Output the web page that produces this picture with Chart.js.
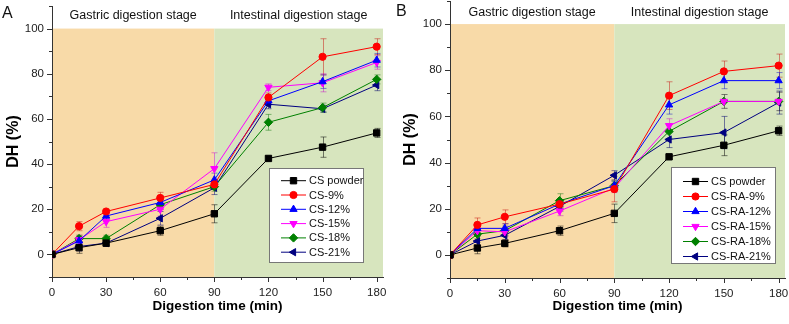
<!DOCTYPE html>
<html>
<head>
<meta charset="utf-8">
<script src="https://cdn.jsdelivr.net/npm/chart.js@4.4.0/dist/chart.umd.min.js"></script>
<style>
body { margin: 0; background: #fff; }
#wrap { position: relative; width: 789px; height: 324px; }
canvas { position: absolute; top: 0; }
#chartA { left: 0; }
#chartB { left: 390px; }
</style>
</head>
<body>
<div id="wrap">
  <canvas id="chartA" width="390" height="324"></canvas>
  <canvas id="chartB" width="399" height="324"></canvas>
</div>
<script>
// digestion time points (min)
const times = [0, 15, 30, 60, 90, 120, 150, 180];
const xTicks = [0, 15, 30, 45, 60, 75, 90, 105, 120, 135, 150, 165, 180];
const yTicks = [-10, 0, 10, 20, 30, 40, 50, 60, 70, 80, 90, 100, 110];
const stageLabels = ['Gastric digestion stage', 'Intestinal digestion stage'];

// panel A
const labelsA = ['CS powder', 'CS-9%', 'CS-12%', 'CS-15%', 'CS-18%', 'CS-21%'];
const csPowder = [0, 3, 5, 10.5, 18, 42.5, 47.5, 53.8];
const cs9 = [0, 12.5, 19, 25, 31, 69.5, 87.5, 92];
const cs12 = [0, 6, 17, 23, 33, 68, 76.5, 86];
const cs15 = [0, 6.5, 14.5, 20, 38, 74, 76, 85];
const cs18 = [0, 7, 7, 22, 30, 58.5, 65, 77.5];
const cs21 = [0, 3.5, 5, 16, 29.5, 66.5, 64.5, 75];

const csPowderErr = [0, 2.5, 1.5, 2, 4, 1, 4.5, 2];
const cs9Err = [0, 2, 1, 2.5, 2, 2, 8, 3.5];
const cs12Err = [0, 2, 2, 3, 3, 2, 3, 3];
const cs15Err = [0, 2, 2.5, 3, 7, 1.5, 4, 3];
const cs18Err = [0, 1.5, 1.5, 2, 2, 3.5, 2, 2];
const cs21Err = [0, 2, 1.5, 3, 3, 2, 1.5, 2.5];

// panel B
const labelsB = ['CS powder', 'CS-RA-9%', 'CS-RA-12%', 'CS-RA-15%', 'CS-RA-18%', 'CS-RA-21%'];
const ra9 = [0, 13, 16.5, 22, 28.5, 69, 79.5, 82];
const ra12 = [0, 11.5, 11.5, 22, 30, 65, 75.5, 75.5];
const ra15 = [0, 10.5, 10, 19, 29, 56, 66.5, 66.5];
const ra18 = [0, 9, 10.5, 23.5, 30, 53.5, 66.5, 66.5];
const ra21 = [0, 6, 8.5, 21, 34.5, 50, 53, 66];

const ra9Err = [0, 3, 3, 2, 5.5, 6, 4.5, 5];
const ra12Err = [0, 2, 2, 2, 2, 4, 3.5, 3.5];
const ra15Err = [0, 2, 2, 2, 2, 3, 3, 4];
const ra18Err = [0, 2, 2, 3, 2, 3, 3, 4];
const ra21Err = [0, 2, 2, 2, 2, 3.5, 7, 5];

// series styles
const colors = ['#000000', '#FF0000', '#0000FF', '#FF00FF', '#008000', '#000080'];
const errColors = ['rgba(0,0,0,0.5)', 'rgba(200,0,0,0.45)', 'rgba(0,0,200,0.45)',
                   'rgba(200,0,200,0.45)', 'rgba(0,110,0,0.45)', 'rgba(0,0,110,0.5)'];
const shapes = ['rect', 'circle', 'triangle', 'triangle', 'rectRot', 'triangle'];
const rotations = [0, 0, 0, 180, 0, -90];
const radii = [4.5, 3.6, 4.2, 4.2, 4.2, 4.2];

const FONT = "'Liberation Sans', Arial, sans-serif";

function makeDatasets(labels, series, errors) {
    return series.map((vals, i) => ({
        label: labels[i],
        data: times.map((t, j) => ({ x: t, y: vals[j] })),
        errors: errors[i],
        errColor: errColors[i],
        borderColor: colors[i],
        backgroundColor: colors[i],
        borderWidth: 1,
        pointStyle: shapes[i],
        rotation: rotations[i],
        pointRadius: radii[i],
        pointBorderWidth: 1,
        tension: 0
    }));
}

const panelPlugin = {
    id: 'panel',
    beforeDraw(chart) {
        const { ctx, chartArea, scales: { x, y } } = chart;
        const x0 = x.getPixelForValue(0), x90 = x.getPixelForValue(90);
        const yTop = y.getPixelForValue(100);
        ctx.save();
        ctx.fillStyle = '#F8DAA8';
        ctx.fillRect(x0, yTop, x90 - x0, chartArea.bottom - yTop);
        ctx.fillStyle = '#D7E5BE';
        ctx.fillRect(x90, yTop, chartArea.right - x90, chartArea.bottom - yTop);
        ctx.restore();
    },
    beforeDatasetsDraw(chart) {
        const { ctx, scales: { x, y } } = chart;
        ctx.save();
        ctx.lineWidth = 1;
        chart.data.datasets.forEach(ds => {
            ctx.strokeStyle = ds.errColor;
            ds.data.forEach((p, j) => {
                const e = ds.errors[j];
                if (!e) return;
                const px = Math.round(x.getPixelForValue(p.x)) + 0.5;
                const y1 = y.getPixelForValue(p.y - e), y2 = y.getPixelForValue(p.y + e);
                ctx.beginPath();
                ctx.moveTo(px, y1); ctx.lineTo(px, y2);
                ctx.moveTo(px - 3, y1); ctx.lineTo(px + 3, y1);
                ctx.moveTo(px - 3, y2); ctx.lineTo(px + 3, y2);
                ctx.stroke();
            });
        });
        ctx.restore();
    },
    afterDraw(chart, args, opts) {
        const { ctx, chartArea, scales: { x, y } } = chart;
        ctx.save();

        // tick marks, outward, minor ones shorter
        ctx.strokeStyle = '#333';
        ctx.lineWidth = 1;
        ctx.beginPath();
        xTicks.forEach(v => {
            const px = Math.round(x.getPixelForValue(v)) + 0.5;
            const len = v % 30 === 0 ? 5 : 3;
            ctx.moveTo(px, chartArea.bottom); ctx.lineTo(px, chartArea.bottom + len);
        });
        yTicks.forEach(v => {
            const py = Math.round(y.getPixelForValue(v)) + 0.5;
            const len = (v % 20 === 0 && v >= 0 && v <= 100) ? 5 : 3;
            ctx.moveTo(chartArea.left, py); ctx.lineTo(chartArea.left - len, py);
        });
        ctx.stroke();

        // stage labels
        ctx.fillStyle = '#111';
        ctx.font = '12.5px ' + FONT;
        ctx.textAlign = 'center';
        ctx.textBaseline = 'middle';
        const x0 = x.getPixelForValue(0), x90 = x.getPixelForValue(90);
        ctx.fillText(stageLabels[0], (x0 + x90) / 2, opts.stageY);
        ctx.fillText(stageLabels[1], (x90 + chartArea.right) / 2, opts.stageY);

        // panel letter
        ctx.font = '16px ' + FONT;
        ctx.textAlign = 'left';
        ctx.textBaseline = 'alphabetic';
        ctx.fillText(opts.letter, opts.letterX, opts.letterY);

        // legend box
        const lg = opts.legend;
        const bx = chartArea.right - lg.right - lg.w;
        const by = chartArea.bottom - lg.bottom - lg.h;
        ctx.fillStyle = '#fff';
        ctx.fillRect(bx, by, lg.w, lg.h);
        ctx.strokeStyle = '#777';
        ctx.strokeRect(Math.round(bx) + 0.5, Math.round(by) + 0.5, lg.w, lg.h);
        ctx.font = '11px ' + FONT;
        ctx.textBaseline = 'middle';
        chart.data.datasets.forEach((ds, i) => {
            const ry = by + lg.first + i * lg.rowH;
            ctx.strokeStyle = ds.borderColor;
            ctx.fillStyle = ds.borderColor;
            ctx.beginPath();
            ctx.moveTo(bx + 12, ry); ctx.lineTo(bx + 37, ry);
            ctx.stroke();
            Chart.helpers.drawPoint(ctx, {
                pointStyle: ds.pointStyle, rotation: ds.rotation,
                radius: ds.pointRadius, borderWidth: 1
            }, bx + 24.5, ry);
            ctx.fillStyle = '#111';
            ctx.fillText(ds.label, bx + 40, ry + 0.5);
        });
        ctx.restore();
    }
};

function makeChart(id, labels, series, errors, panel) {
    return new Chart(document.getElementById(id), {
        type: 'line',
        data: { datasets: makeDatasets(labels, series, errors) },
        plugins: [panelPlugin],
        options: {
            responsive: false,
            animation: false,
            devicePixelRatio: 1,
            layout: { autoPadding: false, padding: { top: panel.padTop, right: panel.padRight, left: 0, bottom: 0 } },
            plugins: {
                legend: { display: false },
                tooltip: { enabled: false },
                panel: panel
            },
            scales: {
                x: {
                    type: 'linear',
                    min: 0,
                    max: 183.5,
                    afterBuildTicks: axis => { axis.ticks = xTicks.map(v => ({ value: v })); },
                    afterFit: scale => {
                        scale.height = panel.xHeight;
                        scale.paddingLeft = 0;
                        scale.paddingRight = 0;
                    },
                    ticks: {
                        autoSkip: false,
                        maxRotation: 0,
                        padding: 9,
                        color: '#222',
                        font: { family: FONT, size: 11.5 },
                        callback: v => (v % 30 === 0 ? String(v) : '')
                    },
                    grid: { display: false, drawTicks: false },
                    border: { display: true, color: '#333', width: 1 },
                    title: {
                        display: true,
                        text: 'Digestion time (min)',
                        color: '#000',
                        font: { family: FONT, size: 13.5, weight: 'bold' },
                        padding: { top: 0, bottom: 10 }
                    }
                },
                y: {
                    type: 'linear',
                    min: -10,
                    max: 110,
                    afterBuildTicks: axis => { axis.ticks = yTicks.map(v => ({ value: v })); },
                    afterFit: scale => {
                        scale.width = panel.yWidth;
                        scale.paddingTop = 0;
                        scale.paddingBottom = 0;
                    },
                    ticks: {
                        autoSkip: false,
                        padding: 8,
                        color: '#222',
                        font: { family: FONT, size: 11.5 },
                        callback: v => (v % 20 === 0 && v >= 0 && v <= 100 ? String(v) : '')
                    },
                    grid: { display: false, drawTicks: false },
                    border: { display: true, color: '#333', width: 1 },
                    title: {
                        display: true,
                        text: 'DH (%)',
                        color: '#000',
                        font: { family: FONT, size: 16, weight: 'bold' },
                        padding: { top: panel.yTitlePad, bottom: 0 }
                    }
                }
            }
        }
    });
}

makeChart('chartA', labelsA,
    [csPowder, cs9, cs12, cs15, cs18, cs21],
    [csPowderErr, cs9Err, cs12Err, cs15Err, cs18Err, cs21Err],
    { letter: 'A', letterX: 2, letterY: 18, stageY: 15.5, padTop: 6, padRight: 7,
      xHeight: 47, yWidth: 52, yTitlePad: 4,
      legend: { right: 20, bottom: 15, w: 94, h: 94, first: 12.7, rowH: 14.3 } });

makeChart('chartB', labelsB,
    [csPowder, ra9, ra12, ra15, ra18, ra21],
    [csPowderErr, ra9Err, ra12Err, ra15Err, ra18Err, ra21Err],
    { letter: 'B', letterX: 6, letterY: 16, stageY: 12.5, padTop: 1, padRight: 4,
      xHeight: 46, yWidth: 60, yTitlePad: 11,
      legend: { right: 10, bottom: 15, w: 104, h: 96, first: 14.5, rowH: 15 } });
</script>
</body>
</html>
